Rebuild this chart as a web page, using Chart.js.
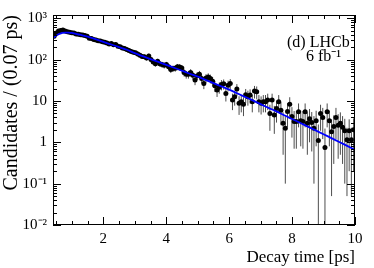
<!DOCTYPE html>
<html><head><meta charset="utf-8">
<script src="https://cdn.jsdelivr.net/npm/chart.js@4"></script>
<style>html,body{margin:0;padding:0;background:#fff}</style>
</head><body>
<canvas id="c" width="374" height="268"></canvas>
<script>
// Bin centres (0.07 ps bins) in ps
const binCenters = [
0.435,0.505,0.575,0.645,0.715,0.785,0.855,0.925,0.995,1.065,
1.135,1.205,1.275,1.345,1.415,1.485,1.555,1.625,1.695,1.765,
1.835,1.905,1.975,2.045,2.115,2.185,2.255,2.325,2.395,2.465,
2.535,2.605,2.675,2.745,2.815,2.885,2.955,3.025,3.095,3.165,
3.235,3.305,3.375,3.445,3.515,3.585,3.655,3.725,3.795,3.865,
3.935,4.005,4.075,4.145,4.215,4.285,4.355,4.425,4.495,4.565,
4.635,4.705,4.775,4.845,4.915,4.985,5.055,5.125,5.195,5.265,
5.335,5.405,5.475,5.545,5.615,5.685,5.755,5.825,5.895,5.965,
6.035,6.105,6.175,6.245,6.315,6.385,6.455,6.525,6.595,6.665,
6.735,6.805,6.875,6.945,7.015,7.085,7.155,7.225,7.295,7.365,
7.435,7.505,7.575,7.645,7.715,7.785,7.855,7.925,7.995,8.065,
8.135,8.205,8.275,8.345,8.415,8.485,8.555,8.625,8.695,8.765,
8.835,8.905,8.975,9.045,9.115,9.185,9.255,9.325,9.395,9.465,
9.535,9.605,9.675,9.745,9.815,9.885,9.955];
// Candidates per bin
const candidates = [
365,440,490,505,520,495,470,462,445,440,
418,410,402,396,385,370,330,325,305,300,
288,282,270,262,252,238,244,230,232,212,
205,192,186,176,166,158,150,146,136,128,
119,118,110,123,100,88,80,91,80,76,
73,76,67,58,61,62,67,66,63,49,
44,44,49,42,32,41,44,35,26.5,36,
38,35,30,23.3,18.5,21.5,25,26,15.2,24,
26.5,10.5,12.7,19.4,8.8,9.6,8.3,14.2,12.7,13.9,
9.6,17.3,16.7,9.6,8.8,9.6,9.6,10.5,5.0,10.5,
4.6,6.6,9.6,6.0,2.9,2.2,5.6,8.3,4.2,3.2,
3.2,5.5,3.3,3.2,5.5,2.9,3.7,3.0,2.2,3.3,
1.1,5.0,4.0,0.75,5.5,3.3,1.8,2.4,4.0,2.6,
2.9,2.3,1.9,1.15,1.9,1.15,2.0];
// Uncertainty per bin
const errors = [
27,29,31,31,32,31,30,30,30,29,
29,28,28,28,27,27,25,25,24,24,
24,23,23,23,22,22,22,21,21,20,
20,19,19,19,18,18,17,17,16,16,
15,15,15,16,14,13,12.5,13.3,12.5,12.2,
12,12.2,11.5,10.7,10.9,11,11.5,11.4,11.1,9.8,
9.3,9.3,9.8,9.1,7.9,9,9.3,8.3,7.2,8.4,
8.6,8.3,7.7,6.8,6,6.5,7,7.1,5.5,6.9,
7.2,4.5,5,6.2,4.2,4.3,4,5.3,5,5.2,
4.3,5.8,5.7,4.3,4.1,4.3,4.3,4.5,3.1,4.5,
3.0,3.6,4.3,3.4,2.4,2.1,3.3,4.0,2.9,2.5,
2.5,3.2,2.5,2.5,3.2,2.4,2.7,2.4,2.1,2.5,
1.6,3.1,2.8,1.4,3.2,2.5,1.75,2.1,2.8,2.2,
2.4,2.0,1.8,1.1,1.7,1.1,1.8];
// Fit curve
const fitTime = [0.40,0.50,0.60,0.70,0.80,0.90,1.00,1.25,1.50,1.75,2.00,2.25,2.50,2.75,3.00,3.25,3.50,3.75,4.00,4.25,4.50,4.75,5.00,5.25,5.50,5.75,6.00,6.25,6.50,6.75,7.00,7.25,7.50,7.75,8.00,8.25,8.50,8.75,9.00,9.25,9.50,9.75,10.00];
const fitValue = [330,380,418,445,452,450,442,400,362,313,269,232,200,173,143,121,103,88,75,63.5,53.8,45.6,38.9,32.4,27.1,22.6,18.8,15.4,12.6,10.3,8.4,6.8,5.6,4.5,3.67,2.97,2.40,1.94,1.57,1.26,1.02,0.82,0.66];
// Axis ticks
const xTickValues = [2,4,6,8,10];
const xMinorTicks = [0.5,1,1.5,2.5,3,3.5,4.5,5,5.5,6.5,7,7.5,8.5,9,9.5];
const yDecades = [0.01,0.1,1,10,100,1000];
const yTickLabels = ['10\u207B\u00B2','10\u207B\u00B9','1','10','10\u00B2','10\u00B3'];
const yMultipliers = [2,3,4,5,6,7,8,9];

const serif = '"Liberation Serif","Times New Roman",serif';
const X_MIN = 0.4, X_MAX = 10, Y_MIN = 0.01, Y_MAX = 1200;

const framePlugin = {
  id: 'framePlugin',
  beforeDatasetsDraw(chart) {
    const {ctx, chartArea: a, scales: {x, y}} = chart;
    ctx.save();
    ctx.beginPath(); ctx.rect(a.left, a.top, a.right - a.left, a.bottom - a.top); ctx.clip();
    ctx.strokeStyle = 'rgba(0,0,0,0.7)'; ctx.lineWidth = 1;
    ctx.beginPath();
    binCenters.forEach((t, i) => {
      const v = candidates[i], e = errors[i];
      const px = x.getPixelForValue(t);
      const top = y.getPixelForValue(v + e);
      const bot = (v - e > 0) ? y.getPixelForValue(v - e) : a.bottom;
      ctx.moveTo(px, top); ctx.lineTo(px, bot);
    });
    ctx.stroke();
    ctx.restore();
  },
  afterDraw(chart) {
    const {ctx, chartArea: a, scales: {x, y}} = chart;
    ctx.save();
    ctx.strokeStyle = '#000'; ctx.lineWidth = 1;
    ctx.strokeRect(Math.round(a.left) + 0.5, Math.round(a.top) + 0.5, Math.round(a.right - a.left) - 1, Math.round(a.bottom - a.top) - 1);
    ctx.beginPath();
    const xt = (v, len) => {
      const p = Math.round(x.getPixelForValue(v)) + 0.5;
      ctx.moveTo(p, a.bottom); ctx.lineTo(p, a.bottom - len);
      ctx.moveTo(p, a.top); ctx.lineTo(p, a.top + len);
    };
    xTickValues.forEach(v => xt(v, 8));
    xMinorTicks.forEach(v => xt(v, 4));
    const yt = (v, len) => {
      if (v < Y_MIN || v > Y_MAX) return;
      const p = Math.round(y.getPixelForValue(v)) + 0.5;
      ctx.moveTo(a.left, p); ctx.lineTo(a.left + len, p);
      ctx.moveTo(a.right, p); ctx.lineTo(a.right - len, p);
    };
    yDecades.forEach(d => { yt(d, 8); yMultipliers.forEach(m => yt(d * m, 4)); });
    ctx.stroke();
    ctx.fillStyle = '#000';
    ctx.font = '16px ' + serif;
    ctx.textBaseline = 'middle';
    ctx.textAlign = 'left';
    ctx.fillText('(d) LHCb', 287, 43);
    ctx.fillText('6 fb\u207B\u00B9', 306, 57);
    ctx.restore();
  }
};

new Chart(document.getElementById('c'), {
  type: 'scatter',
  data: {
    datasets: [
      {
        label: 'Fit',
        data: fitTime.map((t, i) => ({x: t, y: fitValue[i]})),
        showLine: true, pointRadius: 0, borderColor: '#0000ff', borderWidth: 1.8,
        cubicInterpolationMode: 'monotone', fill: false
      },
      {
        label: 'Data',
        data: binCenters.map((t, i) => ({x: t, y: candidates[i]})),
        showLine: false, pointRadius: 2.5, pointBackgroundColor: '#000', pointBorderColor: '#000', pointBorderWidth: 0
      }
    ]
  },
  options: {
    responsive: false, animation: false, devicePixelRatio: 1,
    layout: {padding: {top: 14, right: 19, left: 0, bottom: 0}},
    plugins: {legend: {display: false}, tooltip: {enabled: false}},
    scales: {
      x: {
        type: 'linear', min: X_MIN, max: X_MAX,
        grid: {display: false, drawTicks: false},
        border: {display: false},
        afterBuildTicks: s => { s.ticks = xTickValues.map(v => ({value: v})); },
        afterFit: s => { s.height = 43; },
        ticks: {autoSkip: false, maxRotation: 0, padding: 5, color: '#000', font: {family: serif, size: 15},
                callback: v => String(v)},
        title: {display: true, text: 'Decay time [ps]', align: 'end', color: '#000',
                font: {family: serif, size: 17}, padding: {top: 0, bottom: 0}}
      },
      y: {
        type: 'logarithmic', min: Y_MIN, max: Y_MAX,
        grid: {display: false, drawTicks: false},
        border: {display: false},
        afterBuildTicks: s => { s.ticks = yDecades.map(v => ({value: v})); },
        afterFit: s => { s.width = 53; },
        ticks: {autoSkip: false, padding: 6, color: '#000', font: {family: serif, size: 15},
                callback: (v, i) => yTickLabels[i]},
        title: {display: true, text: 'Candidates / (0.07 ps)', align: 'end', color: '#000',
                font: {family: serif, size: 20}, padding: {top: 0, bottom: 0}}
      }
    }
  },
  plugins: [framePlugin]
});
</script>
</body></html>
